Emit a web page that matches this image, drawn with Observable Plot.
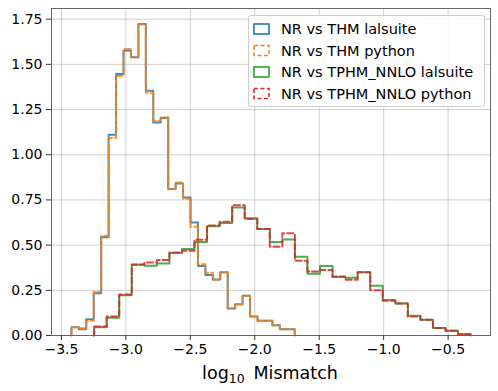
<!DOCTYPE html>
<html>
<head>
<meta charset="utf-8">
<script src="https://cdn.jsdelivr.net/npm/d3@7"></script>
<script src="https://cdn.jsdelivr.net/npm/@observablehq/plot@0.6"></script>
<style>
  html, body { margin: 0; padding: 0; background: #fff; }
  #chart { width: 498px; height: 391px; }
</style>
</head>
<body>
<div id="chart"></div>
<script>
// Histogram bin ranges (30 equal bins each)
const nBins = 30;
const thmRange = [-3.4225, -1.690];
const tphmRange = [-3.2463, -0.3255];

// Densities
const thmLal = [0.046,0.035,0.090,0.234,0.544,1.110,1.446,1.576,1.539,1.723,1.354,1.179,1.203,0.810,0.841,0.763,0.625,0.384,0.335,0.310,0.350,0.149,0.173,0.220,0.105,0.081,0.081,0.057,0.035,0.035];
const thmPy  = [0.046,0.040,0.081,0.242,0.552,1.092,1.435,1.585,1.539,1.720,1.343,1.188,1.207,0.810,0.847,0.756,0.602,0.394,0.347,0.308,0.350,0.149,0.173,0.220,0.105,0.081,0.081,0.057,0.035,0.035];
const tphmLal = [0.046,0.098,0.223,0.391,0.386,0.399,0.456,0.478,0.517,0.605,0.622,0.708,0.648,0.589,0.517,0.531,0.435,0.341,0.384,0.323,0.320,0.350,0.275,0.196,0.177,0.109,0.087,0.042,0.026,0.007];
const tphmPy  = [0.050,0.105,0.227,0.393,0.404,0.417,0.459,0.469,0.530,0.609,0.629,0.720,0.644,0.589,0.491,0.565,0.413,0.354,0.363,0.327,0.309,0.350,0.251,0.192,0.177,0.105,0.087,0.042,0.026,0.007];

const seriesNames = ["NR vs THM lalsuite", "NR vs THM python", "NR vs TPHM_NNLO lalsuite", "NR vs TPHM_NNLO python"];
const seriesColors = ["#1f77b4", "#ff7f0e", "#2ca02c", "#d62728"];
const seriesDashed = [false, true, false, true];

const xTicks = [-3.5, -3.0, -2.5, -2.0, -1.5, -1.0, -0.5];
const yTicks = [0, 0.25, 0.5, 0.75, 1.0, 1.25, 1.5, 1.75];

function edges(range) {
  const [lo, hi] = range;
  return d3.range(nBins + 1).map(k => lo + (hi - lo) * k / nBins);
}
function stepPoints(range, vals, series) {
  const e = edges(range);
  const pts = [{x: e[0], y: 0, series}];
  vals.forEach((v, i) => pts.push({x: e[i], y: v, series}));
  pts.push({x: e[nBins], y: 0, series});
  return pts;
}

const data = [
  stepPoints(thmRange, thmLal, seriesNames[0]),
  stepPoints(thmRange, thmPy, seriesNames[1]),
  stepPoints(tphmRange, tphmLal, seriesNames[2]),
  stepPoints(tphmRange, tphmPy, seriesNames[3])
];

const minus = s => s.replace("-", "\u2212");
const font = "DejaVu Sans, sans-serif";

const plot = Plot.plot({
  width: 498,
  height: 391,
  marginLeft: 51,
  marginRight: 8,
  marginTop: 8,
  marginBottom: 56,
  style: { fontFamily: font, fontSize: "14px", color: "#000", background: "#fff" },
  x: { domain: [-3.577, -0.171] },
  y: { domain: [0, 1.809] },
  marks: [
    Plot.gridX(xTicks, { stroke: "#b0b0b0", strokeOpacity: 0.6, strokeWidth: 1 }),
    Plot.gridY(yTicks, { stroke: "#b0b0b0", strokeOpacity: 0.6, strokeWidth: 1 }),
    ...data.map((pts, i) => Plot.line(pts, {
      x: "x", y: "y", curve: "step-after",
      stroke: seriesColors[i], strokeWidth: 2, strokeOpacity: 0.85,
      strokeDasharray: seriesDashed[i] ? "6,3" : null
    })),
    Plot.frame({ stroke: "#666", strokeWidth: 1 }),
    Plot.axisX(xTicks, {
      tickSize: 5, tickPadding: 4, stroke: "#333",
      tickFormat: d => minus(d.toFixed(1)), fontSize: 14,
      label: null
    }),
    Plot.axisY(yTicks, {
      tickSize: 5, tickPadding: 4, stroke: "#333",
      tickFormat: d => d.toFixed(2), fontSize: 14,
      label: null
    })
  ]
});

// X axis label with subscript
const svg = d3.select(plot);
const xl = svg.append("text")
  .attr("x", 270).attr("y", 379)
  .attr("text-anchor", "middle")
  .attr("font-family", font).attr("font-size", 17.5).attr("fill", "#000");
xl.append("tspan").text("log");
xl.append("tspan").attr("font-size", 12.5).attr("dy", 4).text("10");
xl.append("tspan").attr("dy", -4).text("\u2002Mismatch");

// Legend
const lg = svg.append("g").attr("text-anchor", "start");
lg.append("rect")
  .attr("x", 248.5).attr("y", 15.5).attr("width", 236).attr("height", 91)
  .attr("rx", 2)
  .style("fill", "#ffffff").style("fill-opacity", 0.85)
  .style("stroke", "#cccccc").style("stroke-width", "1px");
seriesNames.forEach((name, i) => {
  const cy = 29 + i * 21.5;
  lg.append("rect")
    .attr("x", 254).attr("y", cy - 5).attr("width", 15).attr("height", 10)
    .style("fill", "none").style("stroke", seriesColors[i]).style("stroke-width", "1.6px")
    .style("stroke-dasharray", seriesDashed[i] ? "4,2.5" : "none");
  lg.append("text")
    .attr("x", 281).attr("y", cy + 5)
    .attr("text-anchor", "start")
    .attr("font-family", font).attr("font-size", 14.5).style("fill", "#000")
    .text(name);
});

document.getElementById("chart").appendChild(plot);
</script>
</body>
</html>
